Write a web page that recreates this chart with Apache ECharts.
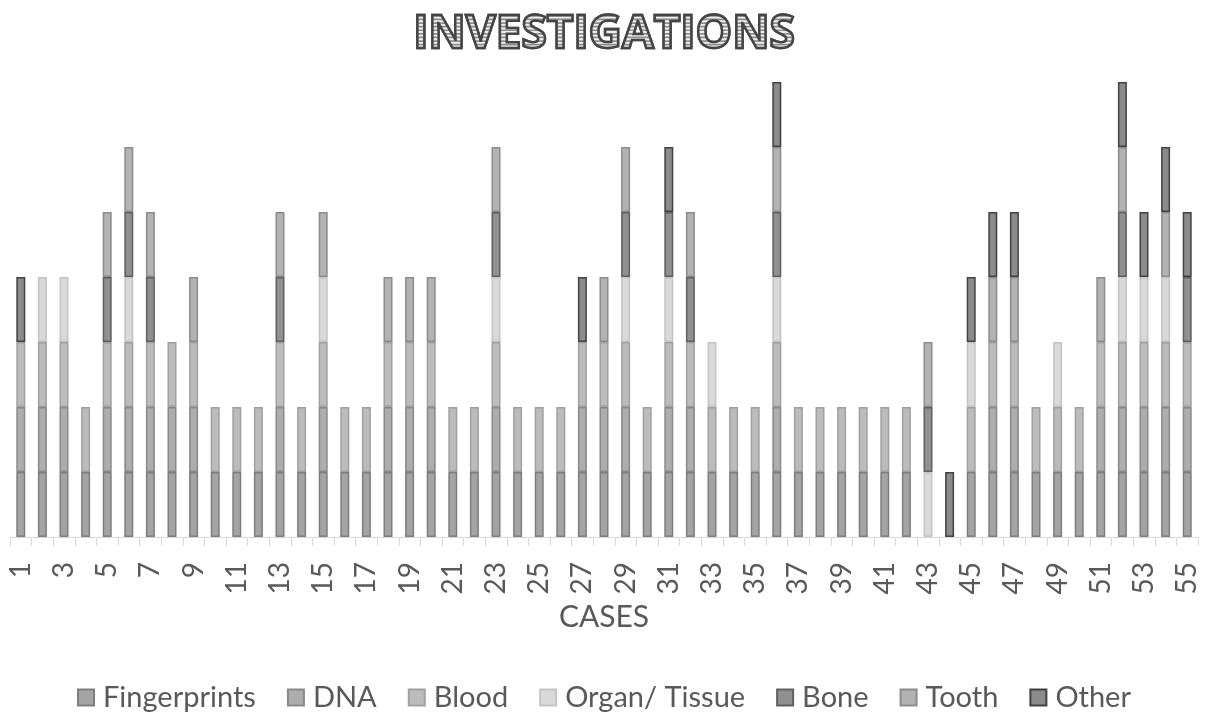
<!DOCTYPE html>
<html>
<head>
<meta charset="utf-8">
<title>Investigations</title>
<script src="https://cdn.jsdelivr.net/npm/echarts@6/dist/echarts.min.js"></script>
<style>
  html, body { margin: 0; padding: 0; background: #ffffff; }
  #chart { width: 1208px; height: 713px; background: #ffffff; }
</style>
</head>
<body>
<div id="chart"></div>
<script>
// Case numbers 1..55
const cases = [
  '1','2','3','4','5','6','7','8','9','10','11','12','13','14','15','16','17','18','19','20',
  '21','22','23','24','25','26','27','28','29','30','31','32','33','34','35','36','37','38','39','40',
  '41','42','43','44','45','46','47','48','49','50','51','52','53','54','55'
];

// Evidence used in each case (1 = used, 0 = not used), case 1 first
const fingerprints = [1,1,1,1,1,1,1,1,1,1, 1,1,1,1,1,1,1,1,1,1, 1,1,1,1,1,1,1,1,1,1, 1,1,1,1,1,1,1,1,1,1, 1,1,0,0,1,1,1,1,1,1, 1,1,1,1,1];
const dna          = [1,1,1,0,1,1,1,1,1,0, 0,0,1,0,1,0,0,1,1,1, 0,0,1,0,0,0,1,1,1,0, 1,1,0,0,0,1,0,0,0,0, 0,0,0,0,0,1,1,0,0,0, 1,1,1,1,1];
const blood        = [1,1,1,1,1,1,1,1,1,1, 1,1,1,1,1,1,1,1,1,1, 1,1,1,1,1,1,1,1,1,1, 1,1,1,1,1,1,1,1,1,1, 1,1,0,0,1,1,1,1,1,1, 1,1,1,1,1];
const organTissue  = [0,1,1,0,0,1,0,0,0,0, 0,0,0,0,1,0,0,0,0,0, 0,0,1,0,0,0,0,0,1,0, 1,0,1,0,0,1,0,0,0,0, 0,0,1,0,1,0,0,0,1,0, 0,1,1,1,0];
const bone         = [0,0,0,0,1,1,1,0,0,0, 0,0,1,0,0,0,0,0,0,0, 0,0,1,0,0,0,0,0,1,0, 1,1,0,0,0,1,0,0,0,0, 0,0,1,0,0,0,0,0,0,0, 0,1,0,0,1];
const tooth        = [0,0,0,0,1,1,1,0,1,0, 0,0,1,0,1,0,0,1,1,1, 0,0,1,0,0,0,0,1,1,0, 0,1,0,0,0,1,0,0,0,0, 0,0,1,0,0,1,1,0,0,0, 1,1,0,1,0];
const other        = [1,0,0,0,0,0,0,0,0,0, 0,0,0,0,0,0,0,0,0,0, 0,0,0,0,0,0,1,0,0,0, 1,0,0,0,0,1,0,0,0,0, 0,0,0,1,1,1,1,0,0,0, 0,1,1,1,1];

const seriesDefs = [
  { name: 'Fingerprints',  data: fingerprints, fill: '#a4a4a4', edge: '#7e7e7e' },
  { name: 'DNA',           data: dna,          fill: '#adadad', edge: '#898989' },
  { name: 'Blood',         data: blood,        fill: '#bcbcbc', edge: '#a0a0a0' },
  { name: 'Organ/ Tissue', data: organTissue,  fill: '#d9d9d9', edge: '#c4c4c4' },
  { name: 'Bone',          data: bone,         fill: '#909090', edge: '#606060' },
  { name: 'Tooth',         data: tooth,        fill: '#b3b3b3', edge: '#8c8c8c' },
  { name: 'Other',         data: other,        fill: '#8b8b8b', edge: '#424242' }
];

const TITLE = 'INVESTIGATIONS';
const TITLE_FONT = 'bold 46px "Open Sans"';
const TITLE_TOP = 11;

// Heading: light letters, thin grey stripes painted only over the letters, then the outline
function headingGraphics() {
  const items = [{
    type: 'text', left: 'center', top: TITLE_TOP, z: 100, silent: true,
    style: { text: TITLE, font: TITLE_FONT, fill: '#eeeeee', stroke: '#454545', lineWidth: 2.5 }
  }];
  for (let y = TITLE_TOP + 4; y < TITLE_TOP + 56; y += 3.6) {
    items.push({
      type: 'rect', z: 101, silent: true,
      shape: { x: 360, y: y, width: 490, height: 1.7 },
      style: { fill: '#8f8f8f', blend: 'source-atop' }
    });
  }
  items.push({
    type: 'text', left: 'center', top: TITLE_TOP, z: 102, silent: true,
    style: { text: TITLE, font: TITLE_FONT, fill: 'none', stroke: '#454545', lineWidth: 2.5 }
  });
  return items;
}

const chart = echarts.init(document.getElementById('chart'), null, { renderer: 'canvas' });

chart.setOption({
  animation: false,
  backgroundColor: 'transparent',
  graphic: headingGraphics(),
  legend: {
    top: 678,
    left: 'center',
    itemWidth: 16,
    itemHeight: 16,
    itemGap: 31,
    icon: 'rect',
    textStyle: { fontFamily: 'Lato', fontSize: 29, color: '#595959', padding: [0, 0, 0, 4] },
    data: seriesDefs.map(s => s.name)
  },
  grid: { left: 10, right: 10, top: 82, bottom: 176, containLabel: false },
  xAxis: {
    type: 'category',
    data: cases,
    name: 'CASES',
    nameLocation: 'middle',
    nameGap: 64,
    nameTextStyle: { fontFamily: 'Lato', fontSize: 30, color: '#595959' },
    axisLine: { lineStyle: { color: '#d9d9d9', width: 1 } },
    axisTick: { show: true, interval: 0, length: 9, lineStyle: { color: '#d9d9d9' } },
    axisLabel: {
      interval: 1,
      rotate: 90,
      margin: 25,
      fontFamily: 'Lato',
      fontSize: 28,
      color: '#595959'
    }
  },
  yAxis: {
    type: 'value',
    min: 0,
    max: 7,
    interval: 1,
    show: false,
    splitLine: { show: false }
  },
  series: seriesDefs.map(s => ({
    name: s.name,
    type: 'bar',
    stack: 'evidence',
    barWidth: 9,
    data: s.data.map(v => (v ? v : '-')),
    itemStyle: {
      color: s.fill,
      borderColor: s.edge,
      borderWidth: 1.5
    },
    emphasis: { disabled: true }
  }))
});
</script>
</body>
</html>
